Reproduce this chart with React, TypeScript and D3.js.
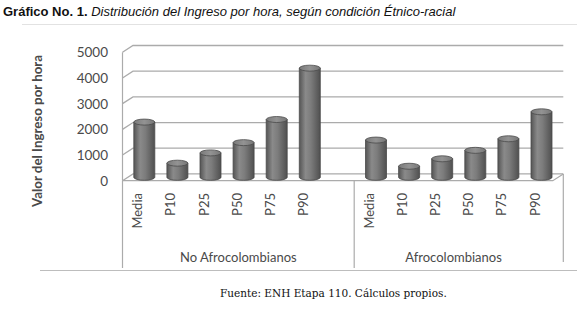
import React from "react";
import * as d3 from "d3";

const categories = ["Media", "P10", "P25", "P50", "P75", "P90"];
const groups = ["No Afrocolombianos", "Afrocolombianos"];
const noAfroValues = [2150, 550, 950, 1350, 2250, 4250];
const afroValues = [1450, 430, 720, 1050, 1500, 2550];
const yTicks = [0, 1000, 2000, 3000, 4000, 5000];

const W = 580;
const H = 309;
const DX = 10.5;
const DY = 6.8;
const R = 10.5;
const RY = 3;

type Slot = { key: string; label: string; value: number | null };
const slots: Slot[] = [
  ...categories.map((c, i) => ({ key: "a" + i, label: c, value: noAfroValues[i] })),
  { key: "blank", label: "", value: null },
  ...categories.map((c, i) => ({ key: "b" + i, label: c, value: afroValues[i] })),
];

export default function App() {
  const x = d3
    .scaleBand<string>()
    .domain(slots.map((s) => s.key))
    .range([122.5, 552.8])
    .padding(0);
  const y = d3.scaleLinear().domain([0, 5000]).range([180.7, 52.3]);
  const bw = x.bandwidth();
  const x0 = x.range()[0];
  const x1 = x.range()[1];
  const grid = "#ababab";
  const txt = "#4a4a4a";
  const sepX = x("b0") as number;

  return (
    <svg width={W} height={H} style={{ position: "absolute", left: 0, top: 0, background: "#fff" }}>
      <defs>
        <linearGradient id="cyl" x1="0" x2="1" y1="0" y2="0">
          <stop offset="0" stopColor="#555" />
          <stop offset="0.3" stopColor="#8a8a8a" />
          <stop offset="0.55" stopColor="#7c7c7c" />
          <stop offset="1" stopColor="#505050" />
        </linearGradient>
        <linearGradient id="topg" x1="0" x2="1" y1="0" y2="0">
          <stop offset="0" stopColor="#7a7a7a" />
          <stop offset="0.5" stopColor="#939393" />
          <stop offset="1" stopColor="#777" />
        </linearGradient>
      </defs>
      {/* title */}
      <text x={3} y={16} fontFamily="'Liberation Sans', Arial, sans-serif" fontSize={13} fill="#111">
        <tspan fontWeight="bold">Gráfico No. 1.</tspan>
        <tspan fontStyle="italic"> Distribución del Ingreso por hora, según condición Étnico-racial</tspan>
      </text>
      {/* frame lines */}
      <line x1={22} x2={577} y1={24.5} y2={24.5} stroke="#e2e2e2" />
      <line x1={40} x2={577} y1={270.5} y2={270.5} stroke="#bdbdbd" strokeWidth={1.2} />

      {/* gridlines on left & back wall */}
      {yTicks.map((t) => (
        <polyline
          key={t}
          points={`${x0},${y(t)} ${x0 + DX},${y(t) - DY} ${x1 + DX},${y(t) - DY}`}
          fill="none"
          stroke={grid}
          strokeWidth={1.3}
        />
      ))}
      {/* left wall front edge */}
      <line x1={x0} x2={x0} y1={y(5000)} y2={y(0)} stroke={grid} strokeWidth={1.2} />
      {/* floor */}
      <polyline
        points={`${x0},${y(0)} ${x1},${y(0)} ${x1 + DX},${y(0) - DY}`}
        fill="none"
        stroke={grid}
        strokeWidth={1.2}
      />

      {/* cylinders */}
      {slots
        .filter((s) => s.value !== null)
        .map((s) => {
          const cx = (x(s.key) as number) + bw / 2 + DX / 2;
          const yb = y(0) - DY / 2;
          const yt = y(s.value as number) - DY / 2;
          const d = `M${cx - R},${yt} L${cx - R},${yb} A${R},${RY} 0 0 0 ${cx + R},${yb} L${cx + R},${yt} Z`;
          return (
            <g key={s.key}>
              <path d={d} fill="url(#cyl)" stroke="#4a4a4a" strokeWidth={0.8} />
              <ellipse cx={cx} cy={yt} rx={R} ry={RY} fill="url(#topg)" stroke="#4a4a4a" strokeWidth={0.8} />
            </g>
          );
        })}

      {/* y tick labels */}
      {yTicks.map((t) => (
        <text
          key={t}
          x={108}
          y={y(t) + 1.5}
          textAnchor="end"
          dominantBaseline="middle"
          fontFamily="Lato, 'Open Sans', sans-serif"
          fontSize={13.5}
          fill={txt}
        >
          {t}
        </text>
      ))}
      {/* y axis title */}
      <text
        transform={`translate(39,131) rotate(-90)`}
        textAnchor="middle"
        dominantBaseline="middle"
        fontFamily="Lato, 'Open Sans', sans-serif"
        fontWeight="bold"
        fontSize={12.5}
        textLength={152}
        lengthAdjust="spacingAndGlyphs"
        fill={txt}
      >
        Valor del Ingreso por hora
      </text>

      {/* category box */}
      <line x1={x0} x2={x0} y1={y(0)} y2={268} stroke={grid} strokeWidth={1.2} />
      <line x1={sepX} x2={sepX} y1={y(0)} y2={268} stroke={grid} strokeWidth={1.2} />
      <line x1={x1 + DX} x2={x1 + DX} y1={y(0) - DY} y2={262} stroke={grid} strokeWidth={1.2} />

      {/* category labels */}
      {slots
        .filter((s) => s.label)
        .map((s) => {
          const cx = (x(s.key) as number) + bw / 2;
          return (
            <text
              key={s.key}
              transform={`translate(${cx},193) rotate(-90)`}
              textAnchor="end"
              dominantBaseline="middle"
              fontFamily="Lato, 'Open Sans', sans-serif"
              fontSize={13}
              fill={txt}
            >
              {s.label}
            </text>
          );
        })}
      {/* group labels */}
      {groups.map((g, gi) => {
        const a = gi === 0 ? x0 : sepX;
        const b = gi === 0 ? sepX : x1;
        return (
          <text
            key={g}
            x={(a + b) / 2}
            y={262}
            textAnchor="middle"
            fontFamily="Lato, 'Open Sans', sans-serif"
            fontSize={13}
            fill={txt}
          >
            {g}
          </text>
        );
      })}

      {/* source */}
      <text x={220} y={297} fontFamily="'DejaVu Serif', 'Liberation Serif', serif" fontSize={10.5} fill="#111">
        Fuente: ENH Etapa 110. Cálculos propios.
      </text>
    </svg>
  );
}
